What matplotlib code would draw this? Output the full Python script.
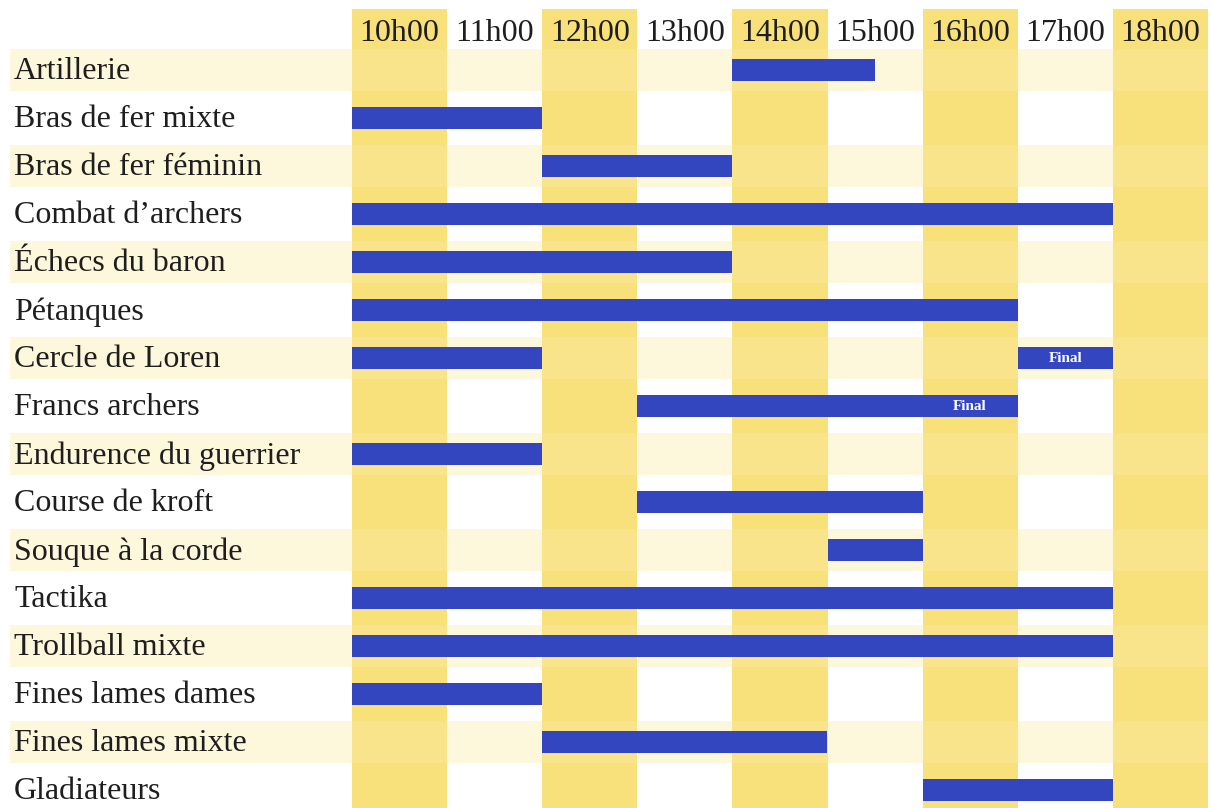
import matplotlib.pyplot as plt

# Schedule data (hours, 10 = 10h00)
activities = ["Artillerie", "Bras de fer mixte", "Bras de fer féminin", "Combat d’archers",
              "Échecs du baron", "Pétanques", "Cercle de Loren", "Francs archers",
              "Endurence du guerrier", "Course de kroft", "Souque à la corde", "Tactika",
              "Trollball mixte", "Fines lames dames", "Fines lames mixte", "Gladiateurs"]
starts = [14, 10, 12, 10, 10, 10, 10, 13, 10, 13, 15, 10, 10, 10, 12, 16]
ends = [15.5, 12, 14, 18, 14, 17, 12, 17, 12, 16, 16, 18, 18, 12, 15, 18]

# Finals: (row, start, end)
final_rows = [6, 7]
final_starts = [17, 16]
final_ends = [18, 17]

hours = list(range(10, 19))
hour_labels = ["%dh00" % h for h in hours]

col_yellow = "#F8E17B"
stripe_yellow = "#FBEBA8"
bar_blue = "#3446BF"

fig = plt.figure(figsize=(12.12, 8.08), dpi=100)
ax = fig.add_axes([0, 0, 1, 1])
px_per_h = 95.1
ax.set_xlim(10 - 352 / px_per_h, 10 + (1212 - 352) / px_per_h)
ax.set_ylim((808 - 70) / 48, -70 / 48)
ax.axis("off")

# Yellow hour columns (every other hour)
for h in hours[::2]:
    ax.fill_between([h, h + 1], -1.27, 20, color=col_yellow, lw=0, zorder=1)

# light row stripes
x_left = 10 - 342 / px_per_h
for i in range(0, len(activities), 2):
    ax.fill_between([x_left, 19], i - 0.44, i + 0.44, color=stripe_yellow,
                    alpha=0.4, lw=0, zorder=2)

# bars
ax.barh(range(len(activities)), [e - s for s, e in zip(starts, ends)], left=starts,
        height=0.44, color=bar_blue, zorder=3)
for r, s, e in zip(final_rows, final_starts, final_ends):
    ax.barh(r, e - s, left=s, height=0.44, color=bar_blue, zorder=3)
    ax.text((s + e) / 2, r + 0.02, "Final", color="white", fontweight="bold",
            family="Liberation Serif", fontsize=11, ha="center", va="center", zorder=4)

# labels
for i, name in enumerate(activities):
    ax.text(10 - 338 / px_per_h, i + 0.04, name, family="Liberation Serif", fontsize=23,
            color="#1e1e1e", ha="left", va="center", zorder=4)
for h, lab in zip(hours, hour_labels):
    ax.text(h + 0.5, -0.77, lab, family="Liberation Serif", fontsize=23,
            color="#1e1e1e", ha="center", va="center", zorder=4)

fig.savefig("out.png", dpi=100)
